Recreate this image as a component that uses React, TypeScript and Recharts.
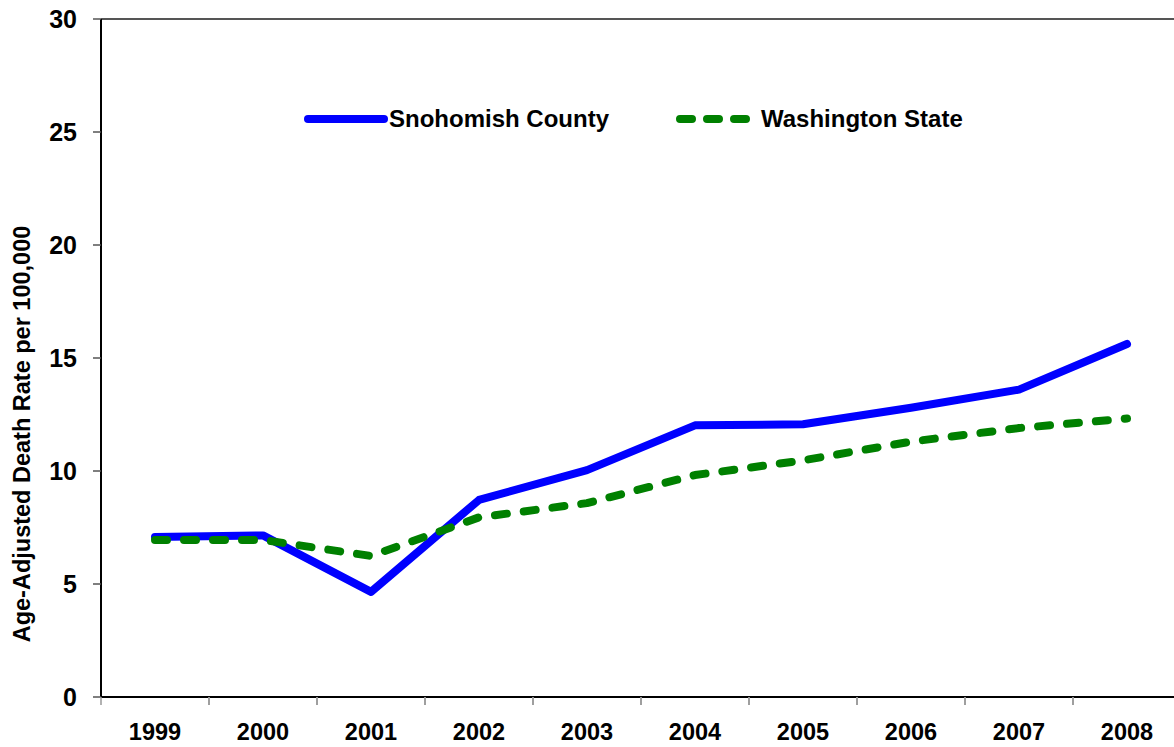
import { Legend, Line, LineChart, ReferenceLine, XAxis, YAxis } from "recharts";

// data
const YEARS = ["1999", "2000", "2001", "2002", "2003", "2004", "2005", "2006", "2007", "2008"];
const SNOHOMISH = [7.08, 7.15, 4.65, 8.72, 10.04, 12.02, 12.07, 12.8, 13.6, 15.62];
const WASHINGTON = [6.95, 6.95, 6.24, 7.95, 8.58, 9.82, 10.47, 11.3, 11.9, 12.32];
const Y_TICKS = [0, 5, 10, 15, 20, 25, 30];

const FONT = "Arial, 'Liberation Sans', sans-serif";
const CHART_W = 1190;
const CHART_H = 747;
const Y_AXIS_W = 101;
const MARGIN = { top: 19, right: 9, left: 0, bottom: 0 };
const BAND = (CHART_W - MARGIN.right - Y_AXIS_W) / YEARS.length;

const data = YEARS.map((year, i) => ({
    year,
    snohomish: SNOHOMISH[i],
    washington: WASHINGTON[i],
}));

// year label + tick marks on the category boundaries
function YearTick(props: any) {
    const { x, y, payload } = props;
    const top = y - 8;
    return (
        <g>
            <line x1={x - BAND / 2} x2={x - BAND / 2} y1={top} y2={top + 8} stroke="#999" strokeWidth={1.5} />
            <line x1={x + BAND / 2} x2={x + BAND / 2} y1={top} y2={top + 8} stroke="#999" strokeWidth={1.5} />
            <text x={x} y={top + 43} textAnchor="middle" fontSize={23.5} fontWeight="bold" fontFamily={FONT} fill="#000">
                {payload.value}
            </text>
        </g>
    );
}

function LegendBox() {
    const item = (label: string, color: string, dashed: boolean, left: number) => (
        <div style={{ position: "absolute", left, top: 0, display: "flex", alignItems: "center" }}>
            <svg width={86} height={14}>
                <line
                    x1={5}
                    x2={81}
                    y1={7}
                    y2={7}
                    stroke={color}
                    strokeWidth={8}
                    strokeLinecap="round"
                    strokeDasharray={dashed ? "12 15" : undefined}
                />
            </svg>
            <span style={{ fontFamily: FONT, fontWeight: "bold", fontSize: 24, color: "#000", whiteSpace: "nowrap" }}>
                {label}
            </span>
        </div>
    );
    return (
        <div style={{ position: "relative", width: 700, height: 30 }}>
            {item("Snohomish County", "#0000ff", false, 0)}
            {item("Washington State", "#008000", true, 372)}
        </div>
    );
}

export default function App() {
    return (
        <div style={{ position: "fixed", left: 0, top: 0, width: 1174, height: 747, overflow: "hidden", background: "#fff" }}>
            <LineChart width={CHART_W} height={CHART_H} data={data} margin={MARGIN}>
                <XAxis
                    dataKey="year"
                    scale="band"
                    height={50}
                    axisLine={{ stroke: "#000", strokeWidth: 2 }}
                    tickLine={false}
                    tick={<YearTick />}
                    interval={0}
                />
                <YAxis
                    domain={[0, 30]}
                    ticks={Y_TICKS}
                    width={Y_AXIS_W}
                    axisLine={{ stroke: "#000", strokeWidth: 2 }}
                    tickLine={{ stroke: "#555", strokeWidth: 1.5 }}
                    tickSize={8}
                    tickMargin={16}
                    tick={{ fontSize: 25, fontWeight: "bold", fontFamily: FONT, fill: "#000" }}
                    label={{
                        content: () => (
                            <text
                                x={30}
                                y={434}
                                transform="rotate(-90 30 434)"
                                textAnchor="middle"
                                fontSize={23.5}
                                fontWeight="bold"
                                fontFamily={FONT}
                                fill="#000"
                            >
                                Age-Adjusted Death Rate per 100,000
                            </text>
                        ),
                    }}
                />
                <ReferenceLine y={30} stroke="#555" strokeWidth={2} />
                <Legend
                    verticalAlign="middle"
                    content={() => <LegendBox />}
                    wrapperStyle={{ top: 105, left: 303, width: 700 }}
                />
                <Line
                    dataKey="snohomish"
                    name="Snohomish County"
                    stroke="#0000ff"
                    strokeWidth={8}
                    dot={false}
                    activeDot={false}
                    strokeLinejoin="round"
                    strokeLinecap="round"
                    isAnimationActive={false}
                />
                <Line
                    dataKey="washington"
                    name="Washington State"
                    stroke="#008000"
                    strokeWidth={8}
                    strokeDasharray="12 17"
                    strokeLinecap="round"
                    strokeLinejoin="round"
                    dot={false}
                    activeDot={false}
                    isAnimationActive={false}
                />
            </LineChart>
        </div>
    );
}
